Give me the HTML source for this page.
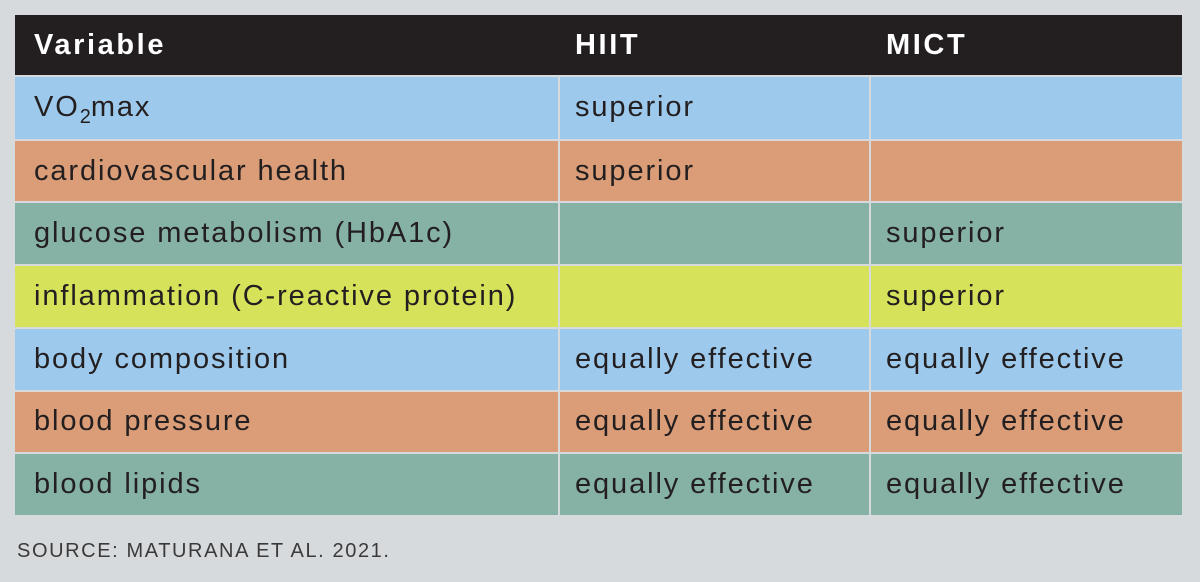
<!DOCTYPE html>
<html><head><meta charset="utf-8"><style>
body{margin:0;width:1200px;height:582px;background:#d7dadd;position:relative;overflow:hidden;font-family:"Liberation Sans",sans-serif;}
.c{position:absolute;display:flex;align-items:center;box-sizing:border-box;font-size:29px;color:#231f20;letter-spacing:1.9px;white-space:nowrap;}
.h{background:#231f20;color:#fff;font-weight:bold;letter-spacing:2.6px;}
.src{position:absolute;left:17px;top:540px;font-size:20px;color:#3a3a3a;letter-spacing:1.6px;}
sub{font-size:20px;position:relative;top:7px;vertical-align:baseline;letter-spacing:0;}
</style></head><body>
<div id="tbl"></div>
<div class="src">SOURCE: MATURANA ET AL. 2021.</div>
<script>
const headers=["Variable","HIIT","MICT"];
const rows=[
["VO<sub>2</sub>max","superior",""],
["cardiovascular health","superior",""],
["glucose metabolism (HbA1c)","","superior"],
["inflammation (C-reactive protein)","","superior"],
["body composition","equally effective","equally effective"],
["blood pressure","equally effective","equally effective"],
["blood lipids","equally effective","equally effective"]];
const colors=["#9dcaec","#db9d77","#86b2a5","#d5e25a","#9dcaec","#db9d77","#86b2a5"];
const colX=[15,560,871],colW=[543,309,311],pad=[19,15,15];
const t=document.getElementById('tbl');
const hdr=document.createElement('div');
hdr.className='c h';


hdr.style.cssText='left:15px;top:15px;width:1167px;height:60px;';
t.appendChild(hdr);
headers.forEach((h,j)=>{const d=document.createElement('div');d.className='c h';


d.style.cssText=`left:${colX[j]+pad[j]}px;top:15px;height:60px;`;d.textContent=h;t.appendChild(d);});
const rh=(516-77)/7;
rows.forEach((r,i)=>{r.forEach((v,j)=>{const d=document.createElement('div');d.className='c';


const top=77+i*rh+(i?1:0);const h=77+(i+1)*rh-1-top;
d.style.cssText=`left:${colX[j]}px;top:${top}px;width:${colW[j]}px;height:${h}px;background:${colors[i]};padding-left:${pad[j]}px;`;
d.innerHTML='<span>'+v+'</span>';t.appendChild(d);});});
</script>
</body></html>
